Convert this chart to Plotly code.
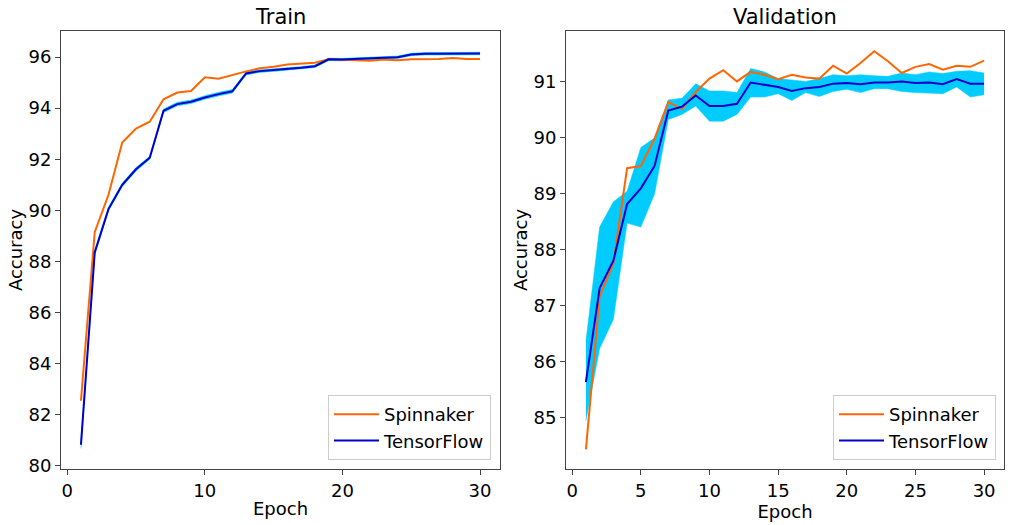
import plotly.graph_objects as go

epochs = list(range(1, 31))

train_spinnaker = [82.55, 89.15, 90.61, 92.66, 93.20, 93.47, 94.35, 94.61, 94.67, 95.21,
                   95.15, 95.30, 95.44, 95.56, 95.62, 95.71, 95.74, 95.78, 95.91, 95.90,
                   95.88, 95.86, 95.90, 95.88, 95.91, 95.92, 95.92, 95.96, 95.92, 95.92]
train_tf_mean = [80.83, 88.35, 90.05, 91.00, 91.61, 92.06, 93.90, 94.16, 94.25, 94.42,
                 94.55, 94.66, 95.36, 95.45, 95.49, 95.53, 95.58, 95.64, 95.91, 95.90,
                 95.93, 95.96, 95.97, 95.99, 96.10, 96.13, 96.13, 96.14, 96.14, 96.14]
train_tf_upper = [80.95, 88.45, 90.12, 91.07, 91.68, 92.12, 93.97, 94.23, 94.32, 94.49,
                  94.62, 94.73, 95.42, 95.50, 95.54, 95.58, 95.63, 95.69, 95.96, 95.95,
                  95.98, 96.01, 96.02, 96.04, 96.15, 96.18, 96.18, 96.19, 96.19, 96.19]
train_tf_lower = [80.68, 88.25, 89.98, 90.93, 91.54, 92.00, 93.83, 94.09, 94.18, 94.35,
                  94.48, 94.59, 95.30, 95.40, 95.44, 95.48, 95.53, 95.59, 95.86, 95.85,
                  95.88, 95.91, 95.92, 95.94, 96.05, 96.08, 96.08, 96.09, 96.09, 96.09]

val_spinnaker = [84.43, 87.16, 87.75, 89.45, 89.49, 89.98, 90.63, 90.51, 90.81, 91.05,
                 91.20, 91.00, 91.17, 91.12, 91.04, 91.12, 91.07, 91.05, 91.28, 91.14,
                 91.33, 91.54, 91.36, 91.15, 91.26, 91.31, 91.21, 91.28, 91.26, 91.37]
val_tf_mean = [85.63, 87.31, 87.80, 88.81, 89.09, 89.49, 90.48, 90.55, 90.75, 90.56,
               90.56, 90.60, 90.98, 90.94, 90.90, 90.83, 90.88, 90.90, 90.96, 90.97,
               90.95, 90.98, 90.98, 91.00, 90.97, 90.98, 90.95, 91.04, 90.96, 90.96]
val_tf_upper = [86.36, 88.40, 88.85, 89.04, 89.82, 89.99, 90.67, 90.70, 90.96, 90.83,
                90.83, 90.80, 91.23, 91.17, 91.05, 91.02, 91.00, 91.05, 91.12, 91.10,
                91.12, 91.10, 91.09, 91.15, 91.12, 91.17, 91.14, 91.18, 91.19, 91.15]
val_tf_lower = [84.94, 86.23, 86.75, 88.47, 88.40, 88.99, 90.32, 90.41, 90.56, 90.29,
                90.29, 90.41, 90.72, 90.72, 90.78, 90.66, 90.80, 90.73, 90.82, 90.86,
                90.80, 90.87, 90.87, 90.82, 90.80, 90.79, 90.78, 90.90, 90.72, 90.76]

train_yticks = [80, 82, 84, 86, 88, 90, 92, 94, 96]
val_yticks = [85, 86, 87, 88, 89, 90, 91]
xticks_train = [0, 10, 20, 30]
xticks_val = [0, 5, 10, 15, 20, 25, 30]

ORANGE = "#FF6600"
BLUE = "#0000CC"
BAND = "#00CCFF"
FONT = "DejaVu Sans"

fig = go.Figure()

def add_panel(xa, ya, spin, mean, upper, lower, legend):
    fig.add_trace(go.Scatter(x=epochs, y=upper, mode="lines", line=dict(width=0.5, color=BAND),
                             xaxis=xa, yaxis=ya, showlegend=False, hoverinfo="skip"))
    fig.add_trace(go.Scatter(x=epochs, y=lower, mode="lines", line=dict(width=0.5, color=BAND),
                             fill="tonexty", fillcolor=BAND,
                             xaxis=xa, yaxis=ya, showlegend=False, hoverinfo="skip"))
    fig.add_trace(go.Scatter(x=epochs, y=spin, mode="lines", name="Spinnaker",
                             line=dict(color=ORANGE, width=2), xaxis=xa, yaxis=ya, legend=legend))
    fig.add_trace(go.Scatter(x=epochs, y=mean, mode="lines", name="TensorFlow",
                             line=dict(color=BLUE, width=2), xaxis=xa, yaxis=ya, legend=legend))

add_panel("x", "y", train_spinnaker, train_tf_mean, train_tf_upper, train_tf_lower, "legend")
add_panel("x2", "y2", val_spinnaker, val_tf_mean, val_tf_upper, val_tf_lower, "legend2")

axis_common = dict(showline=True, linecolor="#444", linewidth=1, mirror=True, ticks="outside",
                   ticklen=5, tickwidth=1, tickcolor="#444", showgrid=False, zeroline=False,
                   automargin=False,
                   tickfont=dict(family=FONT, size=18, color="black"))

ydom = [1 - 469 / 525, 1 - 31 / 525]

legend_common = dict(xanchor="right", yanchor="bottom", traceorder="normal",
                     bordercolor="#CCCCCC", borderwidth=1, bgcolor="rgba(255,255,255,0.8)",
                     font=dict(family=FONT, size=18), tracegroupgap=0, itemwidth=45)

fig.update_layout(
    width=1013, height=525,
    margin=dict(l=0, r=0, t=0, b=0, autoexpand=False),
    paper_bgcolor="white", plot_bgcolor="white",
    font=dict(family=FONT, size=18, color="black"),
    xaxis=dict(domain=[61 / 1013, 500 / 1013], range=[-0.45, 31.45], tickvals=xticks_train,
               title=dict(text="Epoch", font=dict(size=18), standoff=2), anchor="y", **axis_common),
    yaxis=dict(domain=ydom, range=[79.88, 97.02], tickvals=train_yticks,
               title=dict(text="Accuracy", font=dict(size=18), standoff=1), anchor="x", **axis_common),
    xaxis2=dict(domain=[566 / 1013, 1004 / 1013], range=[-0.45, 31.45], tickvals=xticks_val,
                title=dict(text="Epoch", font=dict(size=18), standoff=2), anchor="y2", **axis_common),
    yaxis2=dict(domain=ydom, range=[84.08, 91.9], tickvals=val_yticks,
                title=dict(text="Accuracy", font=dict(size=18), standoff=1), anchor="x2", **axis_common),
    legend=dict(x=491 / 1013, y=1 - 460 / 525, **legend_common),
    legend2=dict(x=996 / 1013, y=1 - 460 / 525, **legend_common),
    annotations=[
        dict(text="Train", x=(61 + 500) / 2 / 1013, y=1 - 17 / 525, xref="paper", yref="paper",
             showarrow=False, font=dict(family=FONT, size=21), xanchor="center", yanchor="middle"),
        dict(text="Validation", x=(566 + 1004) / 2 / 1013, y=1 - 17 / 525, xref="paper", yref="paper",
             showarrow=False, font=dict(family=FONT, size=21), xanchor="center", yanchor="middle"),
    ],
)

fig.write_html("out.html", config={"displayModeBar": False},
               post_script="document.body.style.margin='0';document.body.style.overflow='hidden';")
